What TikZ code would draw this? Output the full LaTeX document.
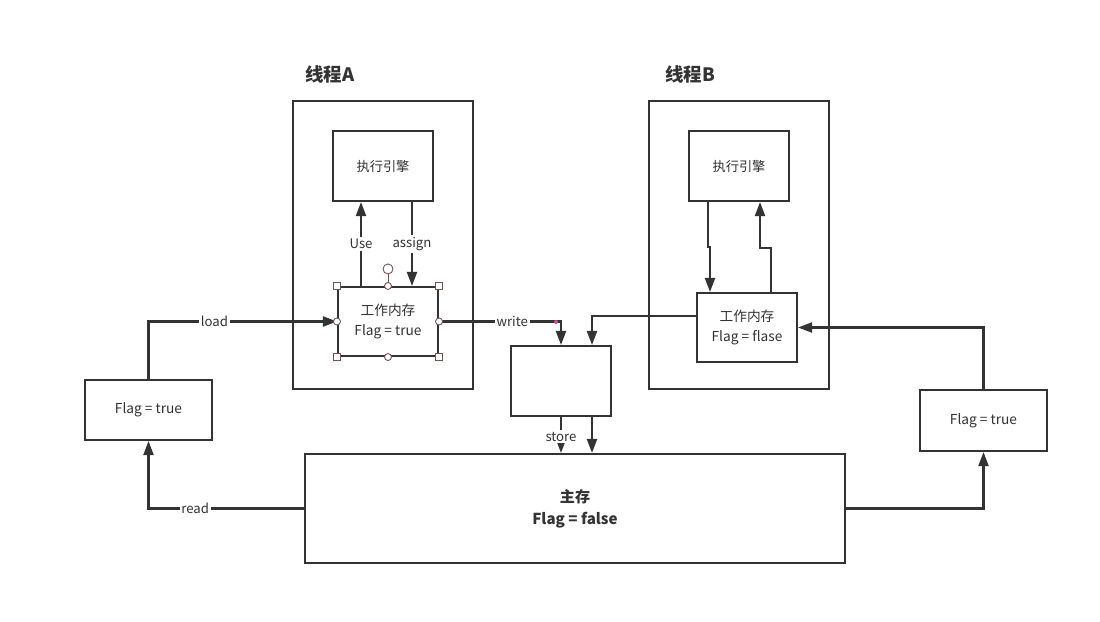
\documentclass[tikz,border=0pt]{standalone}
\usepackage{fontspec}
\setmainfont{Noto Sans CJK SC}
\usetikzlibrary{arrows.meta}
\definecolor{linegray}{HTML}{333333}
\definecolor{handlered}{HTML}{7A4F4F}
\definecolor{dotpink}{HTML}{C8508A}
\begin{document}
\begin{tikzpicture}[x=0.02cm,y=-0.02cm,
	box/.style={draw=linegray,line width=1.2pt,fill=white,align=center,inner sep=0pt,
		text=linegray,font=\fontsize{7.8}{11}\selectfont},
	title/.style={text=linegray,font=\fontsize{10.5}{12}\selectfont\bfseries},
	conn/.style={draw=linegray,line width=1.2pt,-{Triangle[length=0.28cm,width=0.2cm]}},
	lab/.style={fill=white,inner sep=1pt,text=linegray,font=\fontsize{7.5}{9}\selectfont},
	hsq/.style={draw=handlered,fill=white,line width=0.5pt,minimum size=0.14cm,inner sep=0pt},
	hci/.style={draw=handlered,fill=white,line width=0.5pt,circle,minimum size=0.14cm,inner sep=0pt}]
	\useasboundingbox (0,0) rectangle (1100,622);
	% Threads
	\node[title] (titleA) at (330,74) {线程A};
	\node[title] (titleB) at (690,74) {线程B};
	\node[box,minimum width=3.6cm,minimum height=5.76cm] (threadA) at (383,245) {};
	\node[box,minimum width=3.6cm,minimum height=5.76cm] (threadB) at (739,245) {};
	\node[box,minimum width=2cm,minimum height=1.4cm,font=\fontsize{7.5}{10}\selectfont] (engA) at (383,166) {执行引擎};
	\node[box,minimum width=2cm,minimum height=1.4cm,font=\fontsize{7.5}{10}\selectfont] (engB) at (739,166) {执行引擎};
	\node[box,minimum width=2cm,minimum height=1.38cm] (workA) at (388,321.5) {工作内存\\Flag = true};
	\node[box,minimum width=2cm,minimum height=1.38cm] (workB) at (747,327.5) {工作内存\\Flag = flase};
	% Middle, copies and main memory
	\node[box,minimum width=2cm,minimum height=1.4cm] (mid) at (561,381) {};
	\node[box,minimum width=2.54cm,minimum height=1.2cm] (flagL) at (148.5,410) {Flag = true};
	\node[box,minimum width=2.54cm,minimum height=1.22cm] (flagR) at (983.5,420.5) {Flag = true};
	\node[box,minimum width=10.8cm,minimum height=2.18cm,font=\fontsize{8.6}{12.5}\selectfont\bfseries] (main) at (575,508.5) {主存\\Flag = false};
	% Thread A arrows
	\draw[conn] (workA.north -| 361,0) -- (engA.south -| 361,0) node[lab,midway] {Use};
	\draw[conn] (engA.south -| 412,0) -- (workA.north -| 412,0) node[lab,midway] {assign};
	\draw[conn] (flagL.north) |- (workA.west) node[lab,pos=0.675] {load};
	\draw[conn] (workA.east) -| (mid.north) node[lab,pos=0.3] {write};
	% Thread B arrows
	\draw[conn] (engB.south -| 708,0) -- (708,247) -- (710,247) -- (workB.north -| 710,0);
	\draw[conn] (workB.north -| 771,0) -- (771,248) -- (760,248) -- (engB.south -| 760,0);
	\draw[conn] (workB.west |- 0,316) -| (mid.north -| 592,0);
	% Main memory arrows
	\draw[conn] (mid.south) -- (main.north -| 561,0) node[lab,pos=0.55] {store};
	\draw[conn] (mid.south -| 592,0) -- (main.north -| 592,0);
	\draw[conn] (main.west) -| (flagL.south) node[lab,pos=0.35] {read};
	\draw[conn] (main.east) -| (flagR.south);
	\draw[conn] (flagR.north) |- (workB.east);
	% Selection handles
	\draw[handlered,line width=0.5pt] (workA.north) -- ++(0,-17) node[hci,minimum size=0.2cm] (rot) {};
	\foreach \p in {north west,north east,south west,south east}
		\node[hsq] at (workA.\p) {};
	\foreach \p in {north,south,west,east}
		\node[hci] at (workA.\p) {};
	\fill[dotpink] (556,322) circle (2);
\end{tikzpicture}
\end{document}
